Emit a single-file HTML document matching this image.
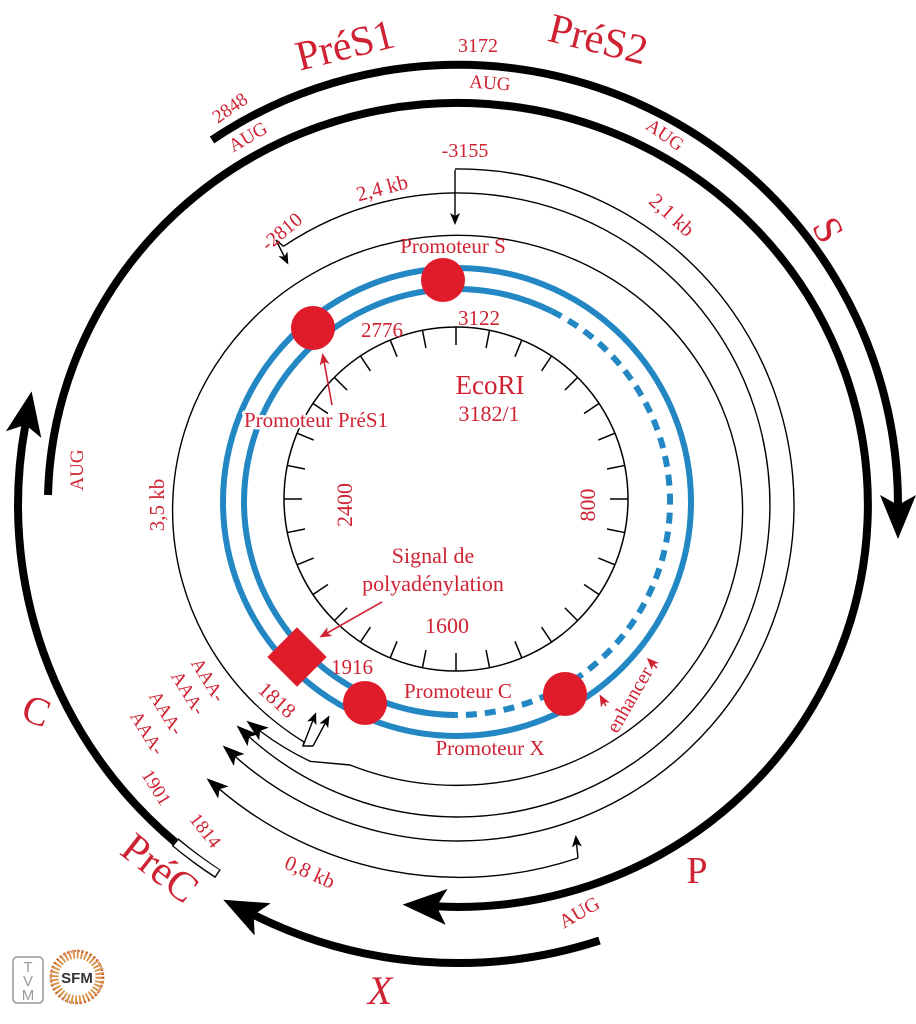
<!DOCTYPE html>
<html><head><meta charset="utf-8"><style>
html,body{margin:0;padding:0;background:#fff;}
svg{display:block;}
text{font-family:"Liberation Serif",serif;fill:#cf2233;}
.h{stroke:#fff;stroke-width:5;paint-order:stroke;stroke-linejoin:round;}
</style></head><body>
<svg width="916" height="1024" viewBox="0 0 916 1024" xmlns="http://www.w3.org/2000/svg">
<defs>
<marker id="big" markerUnits="userSpaceOnUse" markerWidth="46" markerHeight="38" refX="10" refY="18" orient="auto"><path d="M0,0 L44,18 L0,36 L10,18 z" fill="#000"/></marker>
<marker id="sm" markerUnits="userSpaceOnUse" markerWidth="24" markerHeight="18" refX="5" refY="8" orient="auto"><path d="M0,0 L22,8 L0,16 L5,8 z" fill="#000"/></marker>
<marker id="tiny" markerUnits="userSpaceOnUse" markerWidth="14" markerHeight="12" refX="9" refY="5" orient="auto"><path d="M0,0 L12,5 L0,10 L3,5 z" fill="#000"/></marker>
<marker id="red" markerUnits="userSpaceOnUse" markerWidth="14" markerHeight="12" refX="9" refY="5" orient="auto"><path d="M0,0 L12,5 L0,10 L3,5 z" fill="#cf2233"/></marker>
</defs>

<g fill="none" stroke="#000" stroke-width="8">
<path d="M212,140 A440,440 0 0 1 898,505" marker-end="url(#big)"/>
<path d="M48,495 A410,402 0 1 1 436.6,906.4" marker-end="url(#big)"/>
<path d="M175,842 A440,440 0 0 1 25.4,424.8" marker-end="url(#big)"/>
<path d="M599.5,940.6 A458,458 0 0 1 253.7,914.9" marker-end="url(#big)"/>
</g>
<path d="M175,842 A440,440 0 0 0 218,874" fill="none" stroke="#000" stroke-width="10"/>
<path d="M176,843 A440,440 0 0 0 217,873" fill="none" stroke="#fff" stroke-width="7.5"/>

<g fill="none" stroke="#000" stroke-width="1.4">
<path d="M304,742 A285,275 0 1 1 350,765 L310,761.3 A296,296 0 0 1 260,731" marker-end="url(#sm)"/>
<path d="M304,742 L303,746 L313,746"/>
<path d="M303,746 L315,715" marker-end="url(#tiny)"/>
<path d="M313,746 L328,718" marker-end="url(#tiny)"/>
<path d="M283.5,246.3 A312,312 0 1 1 249.2,736.9" marker-end="url(#sm)"/>
<path d="M283.5,246.3 L276,240 L287,262" marker-end="url(#tiny)"/>
<path d="M455,169 A336,336 0 1 1 235.4,756.7" marker-end="url(#sm)"/>
<path d="M455,170 L455,222" marker-end="url(#tiny)"/>
<path d="M578,858 A371,371 0 0 1 219.5,789.2" marker-end="url(#sm)"/>
<path d="M578,858 L576,838" marker-end="url(#tiny)"/>
</g>

<circle cx="457" cy="502" r="234" fill="none" stroke="#2387c4" stroke-width="6"/>
<path d="M455.1,715 A213,213 0 1 1 551.7,311.2" fill="none" stroke="#2387c4" stroke-width="6"/>
<path d="M551.7,311.2 A213,213 0 0 1 455.1,715" fill="none" stroke="#2387c4" stroke-width="6" stroke-dasharray="11 8"/>

<circle cx="456" cy="499" r="172" fill="none" stroke="#000" stroke-width="1.5"/>
<g stroke="#000" stroke-width="1.5">
<line x1="456" y1="327" x2="456" y2="345" transform="rotate(0 456 499)"/>
<line x1="456" y1="327" x2="456" y2="345" transform="rotate(11.25 456 499)"/>
<line x1="456" y1="327" x2="456" y2="345" transform="rotate(22.5 456 499)"/>
<line x1="456" y1="327" x2="456" y2="345" transform="rotate(33.75 456 499)"/>
<line x1="456" y1="327" x2="456" y2="345" transform="rotate(45 456 499)"/>
<line x1="456" y1="327" x2="456" y2="345" transform="rotate(56.25 456 499)"/>
<line x1="456" y1="327" x2="456" y2="345" transform="rotate(67.5 456 499)"/>
<line x1="456" y1="327" x2="456" y2="345" transform="rotate(78.75 456 499)"/>
<line x1="456" y1="327" x2="456" y2="345" transform="rotate(90 456 499)"/>
<line x1="456" y1="327" x2="456" y2="345" transform="rotate(101.25 456 499)"/>
<line x1="456" y1="327" x2="456" y2="345" transform="rotate(112.5 456 499)"/>
<line x1="456" y1="327" x2="456" y2="345" transform="rotate(123.75 456 499)"/>
<line x1="456" y1="327" x2="456" y2="345" transform="rotate(135 456 499)"/>
<line x1="456" y1="327" x2="456" y2="345" transform="rotate(146.25 456 499)"/>
<line x1="456" y1="327" x2="456" y2="345" transform="rotate(157.5 456 499)"/>
<line x1="456" y1="327" x2="456" y2="345" transform="rotate(168.75 456 499)"/>
<line x1="456" y1="327" x2="456" y2="345" transform="rotate(180 456 499)"/>
<line x1="456" y1="327" x2="456" y2="345" transform="rotate(191.25 456 499)"/>
<line x1="456" y1="327" x2="456" y2="345" transform="rotate(202.5 456 499)"/>
<line x1="456" y1="327" x2="456" y2="345" transform="rotate(213.75 456 499)"/>
<line x1="456" y1="327" x2="456" y2="345" transform="rotate(225 456 499)"/>
<line x1="456" y1="327" x2="456" y2="345" transform="rotate(236.25 456 499)"/>
<line x1="456" y1="327" x2="456" y2="345" transform="rotate(247.5 456 499)"/>
<line x1="456" y1="327" x2="456" y2="345" transform="rotate(258.75 456 499)"/>
<line x1="456" y1="327" x2="456" y2="345" transform="rotate(270 456 499)"/>
<line x1="456" y1="327" x2="456" y2="345" transform="rotate(281.25 456 499)"/>
<line x1="456" y1="327" x2="456" y2="345" transform="rotate(292.5 456 499)"/>
<line x1="456" y1="327" x2="456" y2="345" transform="rotate(303.75 456 499)"/>
<line x1="456" y1="327" x2="456" y2="345" transform="rotate(315 456 499)"/>
<line x1="456" y1="327" x2="456" y2="345" transform="rotate(326.25 456 499)"/>
<line x1="456" y1="327" x2="456" y2="345" transform="rotate(337.5 456 499)"/>
<line x1="456" y1="327" x2="456" y2="345" transform="rotate(348.75 456 499)"/>
</g>

<g fill="#e01b2a">
<circle cx="443" cy="280" r="22"/>
<circle cx="313" cy="328" r="22"/>
<circle cx="365" cy="703" r="22"/>
<circle cx="565" cy="694" r="22"/>
<rect x="276" y="636" width="42" height="42" transform="rotate(45 297 657)"/>
</g>
<g fill="none" stroke="#cf2233" stroke-width="1.6">
<path d="M332,405 L323,356" marker-end="url(#red)"/>
<path d="M382,602 L322,636" marker-end="url(#red)"/>
<path d="M657,668 L649,660" marker-end="url(#red)"/>
<path d="M606,706 L601,697" marker-end="url(#red)"/>
</g>

<text x="345" y="59" font-size="42" text-anchor="middle" transform="rotate(-14 345 45)">PréS1</text>
<text x="478" y="52" font-size="20" text-anchor="middle">3172</text>
<text x="598" y="53" font-size="42" text-anchor="middle" transform="rotate(14 598 40)">PréS2</text>
<text x="230" y="114" font-size="19" text-anchor="middle" transform="rotate(-35 230 108)">2848</text>
<text x="248" y="143" font-size="19" text-anchor="middle" transform="rotate(-30 248 137)">AUG</text>
<text x="490" y="89" font-size="19" text-anchor="middle" transform="rotate(4 490 82)">AUG</text>
<text x="665" y="141" font-size="19" text-anchor="middle" transform="rotate(35 665 135)">AUG</text>
<text x="465" y="157" font-size="20" text-anchor="middle">-3155</text>
<text x="382" y="195" font-size="21" text-anchor="middle" transform="rotate(-15 382 188)">2,4 kb</text>
<text x="282" y="238" font-size="20" text-anchor="middle" transform="rotate(-40 282 232)">-2810</text>
<text x="672" y="222" font-size="21" text-anchor="middle" transform="rotate(42 672 215)">2,1 kb</text>
<text x="828" y="243" font-size="40" text-anchor="middle" transform="rotate(62 828 230)">S</text>
<text x="453" y="253" font-size="21" text-anchor="middle">Promoteur S</text>
<text x="382" y="337" font-size="21" text-anchor="middle">2776</text>
<text x="479" y="325" font-size="21" text-anchor="middle">3122</text>
<text x="490" y="394" font-size="27" text-anchor="middle">EcoRI</text>
<text x="489" y="421" font-size="22" text-anchor="middle">3182/1</text>
<text class="h" x="316" y="427" font-size="21" text-anchor="middle">Promoteur PréS1</text>
<text x="76" y="477" font-size="19" text-anchor="middle" transform="rotate(-90 76 470)">AUG</text>
<text x="157" y="512" font-size="21" text-anchor="middle" transform="rotate(-90 157 505)">3,5 kb</text>
<text x="345" y="512" font-size="22" text-anchor="middle" transform="rotate(-90 345 505)">2400</text>
<text x="588" y="512" font-size="22" text-anchor="middle" transform="rotate(-90 588 505)">800</text>
<text x="433" y="563" font-size="22" text-anchor="middle">Signal de</text>
<text x="433" y="591" font-size="22" text-anchor="middle">polyadénylation</text>
<text x="447" y="633" font-size="22" text-anchor="middle">1600</text>
<text x="352" y="674" font-size="21" text-anchor="middle">1916</text>
<text x="277" y="707" font-size="21" text-anchor="middle" transform="rotate(42 277 700)">1818</text>
<text x="458" y="698" font-size="21" text-anchor="middle">Promoteur C</text>
<text x="490" y="755" font-size="21" text-anchor="middle">Promoteur X</text>
<text x="630" y="706" font-size="20" text-anchor="middle" transform="rotate(-60 630 700)">enhancer</text>
<text x="36" y="724" font-size="40" text-anchor="middle" transform="rotate(20 36 712)">C</text>
<text x="208" y="686" font-size="19" text-anchor="middle" transform="rotate(58 208 680)">AAA-</text>
<text x="188" y="699" font-size="19" text-anchor="middle" transform="rotate(58 188 693)">AAA-</text>
<text x="166" y="719" font-size="19" text-anchor="middle" transform="rotate(58 166 713)">AAA-</text>
<text x="147" y="739" font-size="19" text-anchor="middle" transform="rotate(58 147 733)">AAA-</text>
<text x="157" y="794" font-size="19" text-anchor="middle" transform="rotate(58 157 787)">1901</text>
<text x="206" y="837" font-size="19" text-anchor="middle" transform="rotate(52 206 830)">1814</text>
<text x="160" y="882" font-size="42" text-anchor="middle" transform="rotate(38 160 868)">PréC</text>
<text x="310" y="879" font-size="21" text-anchor="middle" transform="rotate(24 310 872)">0,8 kb</text>
<text x="697" y="883" font-size="38" text-anchor="middle">P</text>
<text x="579" y="919" font-size="20" text-anchor="middle" transform="rotate(-30 579 912)">AUG</text>
<text x="380" y="1004" font-size="40" text-anchor="middle" font-style="italic">X</text>

<rect x="13" y="957" width="30" height="46" rx="4" fill="none" stroke="#999" stroke-width="1.5"/>
<text x="28" y="972" font-size="15" text-anchor="middle" style="fill:#999;font-family:'Liberation Sans',sans-serif">T</text>
<text x="28" y="986" font-size="15" text-anchor="middle" style="fill:#999;font-family:'Liberation Sans',sans-serif">V</text>
<text x="28" y="1000" font-size="15" text-anchor="middle" style="fill:#999;font-family:'Liberation Sans',sans-serif">M</text>
<circle cx="77" cy="977" r="23" fill="none" stroke="#d9924a" stroke-width="9" stroke-dasharray="2 2"/>
<circle cx="77" cy="977" r="26" fill="none" stroke="#c0392b" stroke-width="2" stroke-dasharray="1 3"/>
<circle cx="77" cy="977" r="17" fill="#fff"/>
<text x="77" y="983" font-size="15" font-weight="bold" text-anchor="middle" style="fill:#333;font-family:'Liberation Sans',sans-serif">SFM</text>
</svg>
</body></html>
